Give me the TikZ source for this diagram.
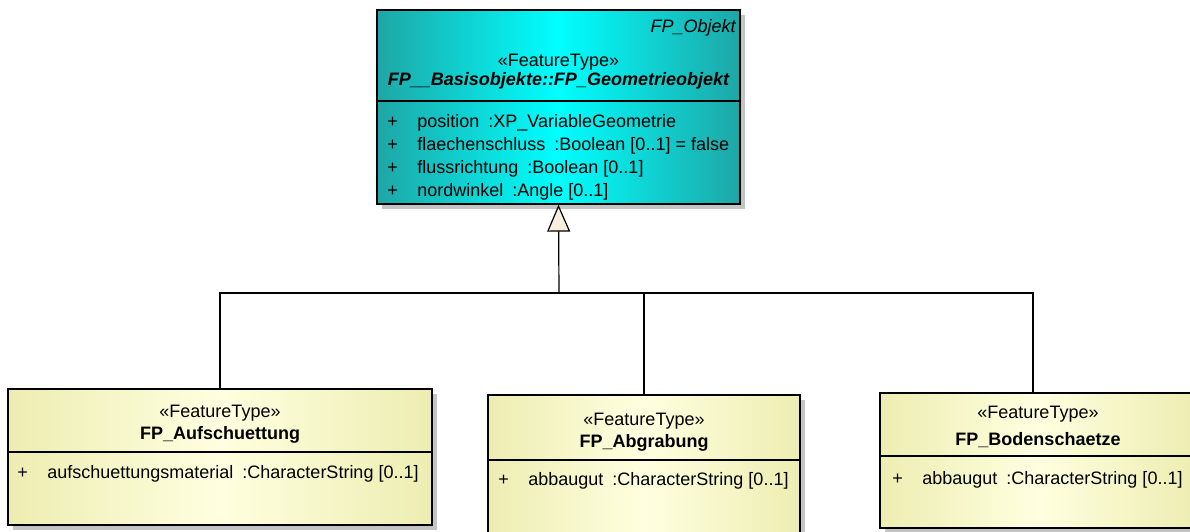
\documentclass[tikz,border=0pt]{standalone}
\usepackage{fontspec}
\setmainfont{Liberation Sans}
\usepackage{xcolor}
\usepackage{tikz}
\usetikzlibrary{positioning, arrows.meta, shadows}
\definecolor{tealEdge}{HTML}{1FA6A6}
\definecolor{tealMid}{HTML}{00FFFF}
\definecolor{creamEdge}{HTML}{EDEDB2}
\definecolor{creamMid}{HTML}{FFFFE0}
\definecolor{shadowGray}{HTML}{C4C4C4}
\definecolor{arrowFill}{HTML}{F8EFE0}
\newcommand{\umlAttr}[2]{\makebox[15pt][l]{+}#1\hspace{0.5em}#2}

\tikzset{
  umlFont/.style={font=\fontsize{9pt}{11.5pt}\selectfont},
  classBox/.style={draw=black, line width=0.65pt, inner sep=0pt,
    drop shadow={shadow xshift=2.5pt, shadow yshift=-2.5pt, fill=shadowGray, opacity=1}},
  superBox/.style={classBox, left color=tealEdge, right color=tealEdge, middle color=tealMid},
  subBox/.style={classBox, left color=creamEdge, right color=creamEdge, middle color=creamMid},
  lbl/.style={umlFont, inner sep=0pt},
  attrs/.style={umlFont, inner sep=0pt, anchor=west, align=left},
  genLine/.style={draw=black, line width=0.6pt}
}

\begin{document}
\begin{tikzpicture}[x=0.5pt, y=-0.5pt]
  \useasboundingbox (0,0) rectangle (1190,531);
  \clip (0,0) rectangle (1190,531);

  \node[superBox, minimum width=181.5pt, minimum height=97pt] (geoObj) at (558.5,107) {};
  \draw[line width=0.65pt] (geoObj.west |- 0,101) -- (geoObj.east |- 0,101);
  \node[lbl, anchor=east] (geoSuper) at (736,28) {\itshape FP\_Objekt};
  \node[lbl] (geoStereo) at (558.5,62) {«FeatureType»};
  \node[lbl] (geoName) at (558.5,81) {\bfseries\itshape FP\_\_Basisobjekte::FP\_Geometrieobjekt};
  \node[attrs] (geoAttrs) at (387,157) {%
    \umlAttr{position}{:XP\_VariableGeometrie}\\
    \umlAttr{flaechenschluss}{:Boolean [0..1] = false}\\
    \umlAttr{flussrichtung}{:Boolean [0..1]}\\
    \umlAttr{nordwinkel}{:Angle [0..1]}};

  \node[subBox, minimum width=212pt, minimum height=68pt] (aufsch) at (220,457) {};
  \draw[line width=0.65pt] (aufsch.west |- 0,452) -- (aufsch.east |- 0,452);
  \node[lbl] (aufschStereo) at (220,413) {«FeatureType»};
  \node[lbl] (aufschName) at (220,435) {\bfseries FP\_Aufschuettung};
  \node[attrs] (aufschAttrs) at (17,474) {\umlAttr{aufschuettungsmaterial}{:CharacterString [0..1]}};

  \node[subBox, minimum width=156pt, minimum height=69pt] (abgrab) at (644,464) {};
  \draw[line width=0.65pt] (abgrab.west |- 0,460) -- (abgrab.east |- 0,460);
  \node[lbl] (abgrabStereo) at (644,421) {«FeatureType»};
  \node[lbl] (abgrabName) at (644,443) {\bfseries FP\_Abgrabung};
  \node[attrs] (abgrabAttrs) at (498,481) {\umlAttr{abbaugut}{:CharacterString [0..1]}};

  \node[subBox, minimum width=158pt, minimum height=67.5pt] (boden) at (1038,460.5) {};
  \draw[line width=0.65pt] (boden.west |- 0,456) -- (boden.east |- 0,456);
  \node[lbl] (bodenStereo) at (1038,414) {«FeatureType»};
  \node[lbl] (bodenName) at (1038,440) {\bfseries FP\_Bodenschaetze};
  \node[attrs] (bodenAttrs) at (892,480) {\umlAttr{abbaugut}{:CharacterString [0..1]}};

  \coordinate (joinPt) at (559,293);
  \draw[genLine] (aufsch.north) |- (joinPt) -| ([xshift=-2.5pt]boden.north);
  \draw[genLine] (abgrab.north) -- (abgrab.north |- joinPt);
  \draw[genLine, -{Triangle[open, fill=arrowFill, length=13.5pt, width=11.5pt]}] (joinPt) -- (geoObj.south);
\end{tikzpicture}
\end{document}
